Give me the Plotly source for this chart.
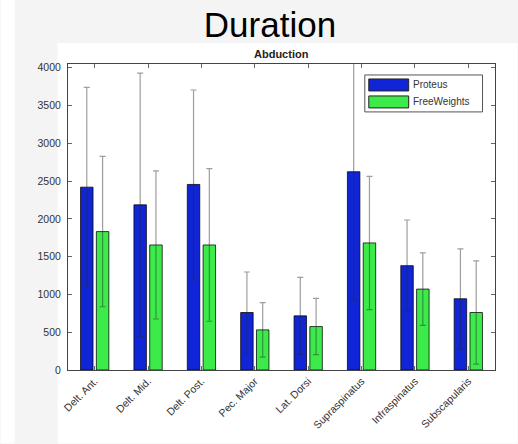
import plotly.graph_objects as go

categories = ["Delt. Ant.", "Delt. Mid.", "Delt. Post.", "Pec. Major", "Lat. Dorsi",
              "Supraspinatus", "Infraspinatus", "Subscapularis"]
series_names = ["Proteus", "FreeWeights"]
proteus = [2420, 2186, 2456, 761, 717, 2624, 1381, 943]
proteus_sd = [1320, 1743, 1250, 536, 510, 1700, 604, 659]
free = [1832, 1655, 1655, 531, 575, 1682, 1071, 761]
free_sd = [995, 980, 1010, 360, 372, 882, 480, 682]
y_ticks = [0, 500, 1000, 1500, 2000, 2500, 3000, 3500, 4000]

W, H = 518, 444
L, R, T, B = 67.5, 495.5, 64, 370.5
PW, PH = R - L, B - T

def px(x):
    return (x - L) / PW

def py(y):
    return (B - y) / PH

blue = "#1026d6"
green = "#3ceb4a"
xs = list(range(1, len(categories) + 1))

fig = go.Figure()
for vals, sd, col, name in [(proteus, proteus_sd, blue, series_names[0]),
                            (free, free_sd, green, series_names[1])]:
    fig.add_trace(go.Bar(
        x=xs, y=vals, name=name, marker=dict(color=col, line=dict(color="rgba(0,0,0,0.75)", width=1)),
        error_y=dict(type="data", array=sd, symmetric=True, color="rgba(40,40,40,0.45)",
                     thickness=1.2, width=3),
        showlegend=False,
    ))

shapes = [
    dict(type="rect", xref="paper", yref="paper", x0=px(57), x1=px(W), y0=py(43), y1=py(H),
         fillcolor="white", line=dict(width=0), layer="below"),
    dict(type="rect", xref="paper", yref="paper", x0=px(0), x1=px(14), y0=py(0), y1=py(H),
         fillcolor="white", line=dict(width=0), layer="below"),
    dict(type="rect", xref="paper", yref="paper", x0=px(365), x1=px(483), y0=py(75), y1=py(112),
         fillcolor="white", line=dict(color="#555555", width=1), layer="above"),
    dict(type="rect", xref="paper", yref="paper", x0=px(369), x1=px(409), y0=py(79), y1=py(91),
         fillcolor=blue, line=dict(color="#222222", width=1), layer="above"),
    dict(type="rect", xref="paper", yref="paper", x0=px(369), x1=px(409), y0=py(96), y1=py(108),
         fillcolor=green, line=dict(color="#222222", width=1), layer="above"),
]

annotations = [
    dict(text="<b>Abduction</b>", xref="paper", yref="paper", x=0.5, y=py(54),
         showarrow=False, font=dict(size=11, color="#222222", family="Liberation Sans, Arial"),
         xanchor="center", yanchor="middle"),
    dict(text=series_names[0], xref="paper", yref="paper", x=px(411), y=py(85),
         showarrow=False, font=dict(size=10, color="#333333", family="Liberation Sans, Arial"),
         xanchor="left", yanchor="middle"),
    dict(text=series_names[1], xref="paper", yref="paper", x=px(411), y=py(102),
         showarrow=False, font=dict(size=10, color="#333333", family="Liberation Sans, Arial"),
         xanchor="left", yanchor="middle"),
]

fig.update_layout(
    width=W, height=H,
    margin=dict(l=L, r=W - R, t=T, b=H - B, pad=0),
    paper_bgcolor="#f4f4f4",
    plot_bgcolor="white",
    barmode="group", bargap=0.408, bargroupgap=0.21,
    title=dict(text="Duration", x=270 / W, xanchor="center", y=1 - 25 / H, yanchor="middle",
               xref="container", yref="container",
               font=dict(size=35, color="black", family="Liberation Sans, Arial")),
    shapes=shapes, annotations=annotations,
    font=dict(family="Liberation Sans, Arial", size=11, color="#333333"),
)
fig.update_xaxes(
    range=[0.5, 8.5], tickmode="array", tickvals=xs, ticktext=categories, tickangle=-45,
    showline=True, linecolor="#444444", linewidth=1, mirror="ticks",
    ticks="inside", ticklen=4, tickcolor="#666666", showgrid=False, zeroline=False,
    tickfont=dict(size=10.5, color="#333333"),
)
fig.update_yaxes(
    range=[0, 4050], tickmode="array", tickvals=y_ticks,
    showline=True, linecolor="#444444", linewidth=1, mirror="ticks",
    ticks="inside", ticklen=4, tickcolor="#666666", showgrid=False, zeroline=False,
    tickfont=dict(size=10.5, color="#333333"), ticklabelstandoff=4,
)
fig.write_html("out.html")
